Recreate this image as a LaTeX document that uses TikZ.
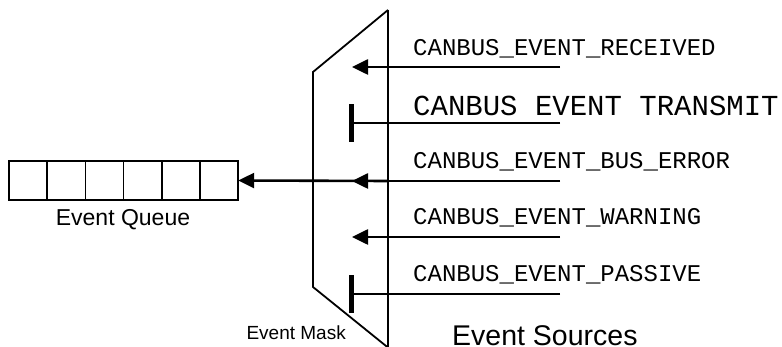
\documentclass[tikz,border=0pt]{standalone}
\usepackage{fontspec}
\setmainfont{Liberation Sans}
\newfontfamily\monofont{Liberation Mono}
\usetikzlibrary{arrows.meta}
\begin{document}
\begin{tikzpicture}[x=1pt,y=-1pt,
  cell/.style={draw,line width=1.5pt,minimum width=38.2pt,minimum height=39pt,inner sep=0pt,outer sep=0pt},
  outline/.style={line width=1.8pt},
  pass/.style={line width=2.6pt,-{Triangle[length=16pt,width=15pt]}},
  block/.style={line width=2.2pt,-{Bar[width=38pt,line width=4.5pt]}},
  srclabel/.style={anchor=base west,inner sep=0pt,font=\monofont\fontsize{24}{24}\selectfont},
  caption/.style={inner sep=0pt,font=\fontsize{23}{23}\selectfont}]
\useasboundingbox (0,0) rectangle (782,347);

% event queue
\node[cell] (q1) at (28.1,180.5) {};
\foreach \i [count=\j from 1] in {2,...,6}
  \node[cell,anchor=west] (q\i) at (q\j.east) {};
\node[caption,anchor=base] (qlabel) at (123,226) {Event Queue};

% event mask
\coordinate (mtop) at (388,10);
\coordinate (mbot) at (388,352);
\coordinate (mul) at (313,72);
\coordinate (mll) at (313,287);
\draw[outline] (mtop) -- (mbot);
\draw[outline] (mtop) -- (mul) -- (mll) -- (391,350);
\node[caption,anchor=base east,font=\fontsize{19}{19}\selectfont] (mlabel) at (346,340) {Event Mask};

% mask output to queue
\coordinate (mout) at (388,181);
\draw[pass] (mout) -- (q6.east);

% event sources
\foreach \n/\y in {1/67,2/123,3/181,4/237,5/294}
  \coordinate (s\n) at (560,\y);
\foreach \n/\y in {1/67,3/181,4/237}
  \coordinate (t\n) at (352,\y);
\coordinate (t2) at (349,123);
\coordinate (t5) at (349,294);

\draw[pass] (s1) -- (t1);
\draw[block] (s2) -- (t2);
\draw[pass] (s3) -- (t3);
\draw[pass] (s4) -- (t4);
\draw[block] (s5) -- (t5);

\node[srclabel] (l1) at (413,56) {CANBUS\_EVENT\_RECEIVED};
\node[srclabel,font=\monofont\fontsize{29}{29}\selectfont] (l2) at (413,116) {CANBUS EVENT TRANSMIT};
\node[srclabel] (l3) at (413,169) {CANBUS\_EVENT\_BUS\_ERROR};
\node[srclabel] (l4) at (413,225) {CANBUS\_EVENT\_WARNING};
\node[srclabel] (l5) at (413,282) {CANBUS\_EVENT\_PASSIVE};

\node[caption,anchor=base west,font=\fontsize{28.5}{28.5}\selectfont] (slabel) at (452,345) {Event Sources};
\end{tikzpicture}
\end{document}
